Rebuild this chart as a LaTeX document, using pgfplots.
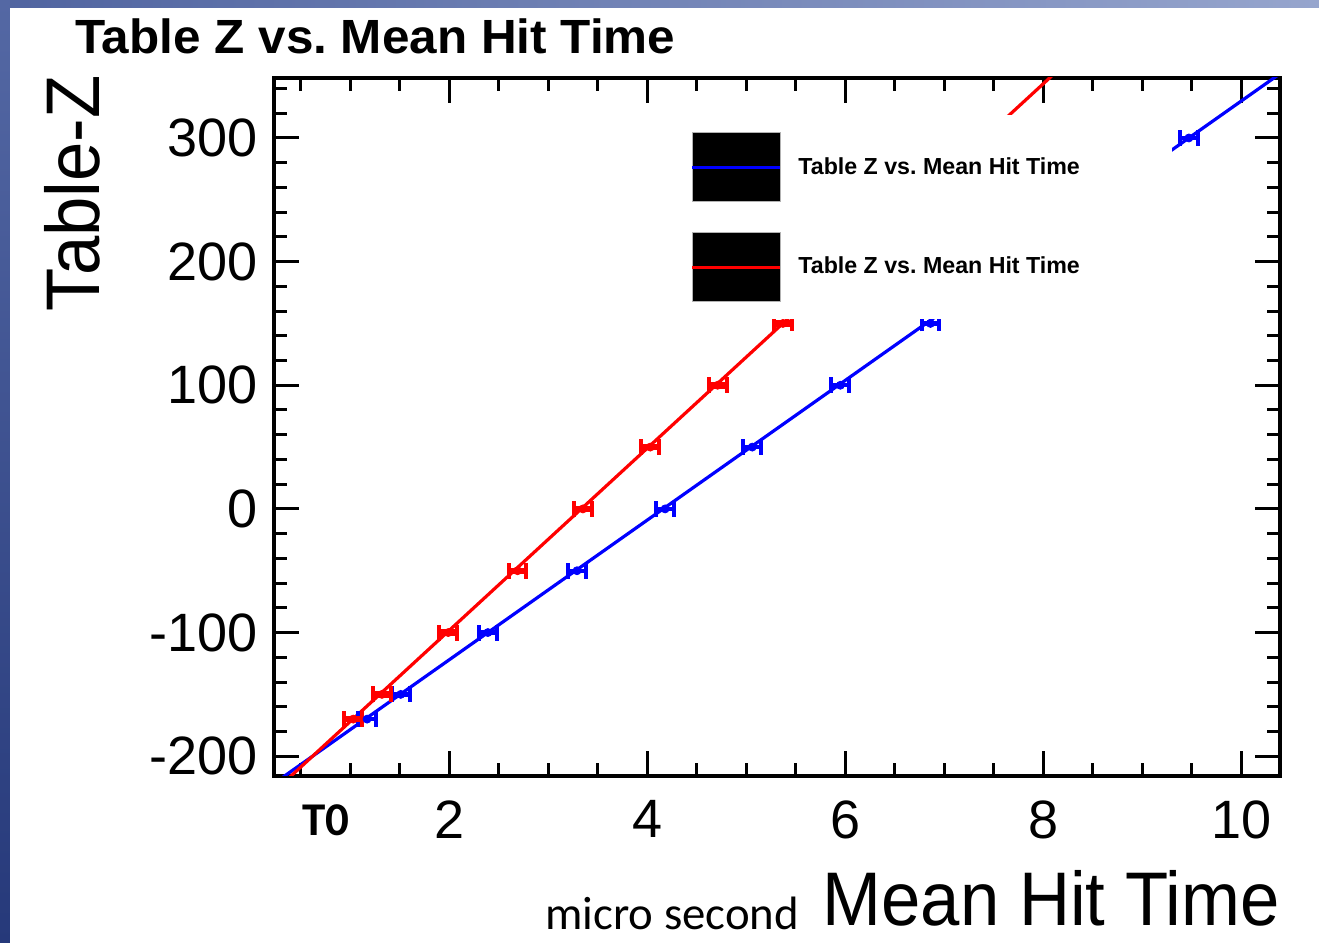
\documentclass[border=0pt]{standalone}
\usepackage{pgfplots}
\pgfplotsset{compat=1.18}
\usepackage{pgfplotstable}
\usepackage{graphicx}
\usepackage{fontspec}
\setmainfont{Liberation Sans}
\newfontfamily\calibri{Carlito}
\definecolor{rootblue}{RGB}{0,0,255}
\definecolor{rootred}{RGB}{255,0,0}
\frenchspacing

\pgfplotstableread{
x z ex ez
1.17 -170 0.09 0
1.51 -150 0.09 0
2.39 -100 0.09 0
3.29 -50 0.09 0
4.18 0 0.09 0
5.06 50 0.09 0
5.95 100 0.09 0
6.86 150 0.09 0
9.47 300 0.09 0
}\bluedata

\pgfplotstableread{
x z ex ez
1.03 -170 0.09 1
1.32 -150 0.09 1
1.99 -100 0.09 1
2.69 -50 0.09 1
3.35 0 0.09 1
4.03 50 0.09 1
4.71 100 0.09 1
5.37 150 0.09 1
}\reddata

\begin{document}
\begin{tikzpicture}
\useasboundingbox (0,0) rectangle (659.5pt,471.5pt);
\shade[left color={rgb,255:red,80;green,100;blue,160}, right color={rgb,255:red,150;green,165;blue,205}] (0,0) rectangle (659.5pt,471.5pt);
\shade[top color={rgb,255:red,84;green,104;blue,164}, bottom color={rgb,255:red,38;green,57;blue,122}] (0,0) rectangle (5pt,471.5pt);
\fill[white] (5pt,0) rectangle (659.5pt,467.5pt);

\begin{axis}[
  at={(137pt,83.5pt)}, anchor=south west,
  scale only axis, width=503pt, height=349pt,
  xmin=0.23, xmax=10.39, ymin=-216, ymax=348.5,
  axis line style={line width=1.8pt, black},
  xtick={2,4,6,8,10}, xticklabels={2,4,6,8,10},
  minor xtick={0.5,1,...,10},
  ytick={-200,-100,0,100,200,300}, yticklabels={-200,-100,0,100,200,300},
  minor ytick={-200,-180,...,340},
  tick align=inside,
  major tick length=12.5pt, minor tick length=6.5pt,
  tick style={line width=1.5pt, black},
  ticklabel style={font=\fontsize{27}{27}\selectfont},
  xticklabel style={inner sep=0pt, anchor=north, yshift=-12pt},
  yticklabel style={inner sep=0pt, anchor=east, xshift=-8pt},
  every axis title shift=0pt,
  title={\scalebox{1.03}[1]{\bfseries\fontsize{24}{24}\selectfont Table Z vs. Mean Hit Time}},
  title style={at={(rel axis cs:-0.1978,1.0358)}, anchor=base west, inner sep=0pt},
  xlabel={\scalebox{0.93}[1]{\fontsize{38}{38}\selectfont Mean Hit Time}},
  xlabel style={at={(rel axis cs:1,-0.2135)}, anchor=base east, inner sep=0pt},
  ylabel={\scalebox{0.93}[1]{\fontsize{38}{38}\selectfont Table-Z}},
  ylabel style={at={(rel axis cs:-0.173,1.004)}, anchor=base east, inner sep=0pt},
  legend image code/.code={
    \filldraw[black, draw=gray!60, line width=0.4pt] (0pt,-17.25pt) rectangle (44pt,17.25pt);
    \draw[#1, line width=1.5pt] (0pt,0pt) -- (44pt,0pt);
  },
  legend cell align=left,
  legend style={at={(rel axis cs:0.4036,0.947)}, anchor=north west,
    fill=white, draw=none, inner xsep=5pt, inner ysep=8.5pt,
    row sep=15pt, column sep=8.5pt,
    nodes={inner sep=0pt},
    font=\bfseries\fontsize{11.6}{11.6}\selectfont},
]
% fit lines
\addplot[rootblue, line width=1.6pt] coordinates {(0.2,-223.7) (10.5,358.2)};
\addlegendentry{Table Z vs. Mean Hit Time\hspace*{41pt}}
\addplot[rootred, line width=1.6pt] coordinates {(0.2,-230.9) (8.3,366.0)};
\addlegendentry{Table Z vs. Mean Hit Time\hspace*{41pt}}
% data points with error bars
\addplot[rootblue, only marks, mark=none, forget plot,
  error bars/.cd, x dir=both, x explicit,
  error mark options={rotate=90, rootblue, line width=2pt, mark size=4pt},
  error bar style={rootblue, line width=2.2pt}]
  table[x=x, y=z, x error=ex] {\bluedata};
\addplot[rootred, only marks, mark=none, forget plot,
  error bars/.cd, x dir=both, x explicit, y dir=both, y explicit,
  error mark options={rotate=90, rootred, line width=2pt, mark size=4pt},
  error bar style={rootred, line width=2.2pt}]
  table[x=x, y=z, x error=ex, y error=ez] {\reddata};
\end{axis}

\node[anchor=base west, inner sep=0pt, font=\calibri\bfseries\fontsize{23.5}{23.5}\selectfont] at (151pt,53.5pt) {T0};
\node[anchor=base west, inner sep=0pt, font=\calibri\fontsize{23.4}{23.4}\selectfont] at (272.5pt,6.5pt) {micro second};
\end{tikzpicture}
\end{document}
